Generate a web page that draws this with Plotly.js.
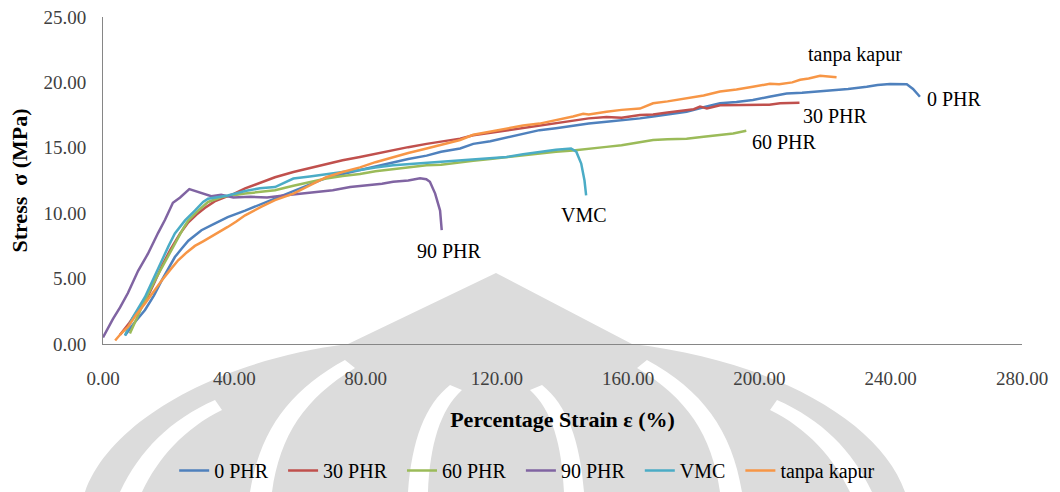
<!DOCTYPE html>
<html>
<head>
<meta charset="utf-8">
<script src="https://cdn.plot.ly/plotly-3.0.1.min.js"></script>
<style>
  html, body { margin: 0; padding: 0; background: #ffffff; }
  #chart { width: 1060px; height: 492px; }
</style>
</head>
<body>
<div id="chart"></div>
<script>
// Tensile test curves: stress (MPa) vs percentage strain (%)
const seriesNames = ['0 PHR', '30 PHR', '60 PHR', '90 PHR', 'VMC', 'tanpa kapur'];

const strain0 = [6.7, 9.5, 12.8, 15.5, 17.9, 20, 21.9, 24, 26, 28, 30, 34, 38, 43.3, 48.3, 52.4, 58, 63, 68, 73, 78.3, 83, 88.4, 93, 98.6, 103, 108.8, 112.8, 118, 123, 128, 133, 138, 143.2, 148, 153.4, 158, 163.6, 167.6, 172, 177.8, 183, 188, 193, 198, 203, 208.3, 213, 218.5, 222.4, 227, 232.7, 236, 239.8, 242, 244.9, 246.8, 248.9];
const stress0 = [0.65, 1.6, 2.6, 3.7, 4.86, 5.8, 6.65, 7.3, 7.9, 8.3, 8.7, 9.2, 9.7, 10.2, 10.7, 11.1, 11.7, 12.2, 12.7, 13.0, 13.3, 13.6, 13.9, 14.15, 14.4, 14.7, 14.95, 15.3, 15.5, 15.8, 16.05, 16.35, 16.5, 16.7, 16.85, 17.0, 17.1, 17.25, 17.4, 17.55, 17.75, 18.1, 18.4, 18.5, 18.65, 18.9, 19.15, 19.2, 19.3, 19.4, 19.5, 19.66, 19.8, 19.87, 19.88, 19.85, 19.5, 18.9];

const strain30 = [5.2, 8, 10.5, 13, 15.5, 18, 20.5, 23.5, 26, 28.5, 31, 34, 38, 40, 43.3, 48.3, 52.4, 58, 63, 68, 73, 78.3, 83, 88.4, 93, 98.6, 103, 108.8, 112.8, 118, 123, 128, 133, 138, 143.2, 148, 153.4, 158, 163.6, 167.6, 172, 177.8, 180, 181.9, 184, 188, 193, 198, 203, 206.3, 209, 212.2];
const stress30 = [0.7, 1.6, 2.5, 3.3, 4.6, 6.0, 7.2, 8.45, 9.3, 9.9, 10.4, 10.9, 11.3, 11.5, 11.9, 12.4, 12.75, 13.15, 13.45, 13.8, 14.05, 14.3, 14.55, 14.8, 15.05, 15.3, 15.45, 15.7, 15.96, 16.15, 16.35, 16.5, 16.7, 16.9, 17.1, 17.25, 17.35, 17.3, 17.5, 17.55, 17.7, 17.9, 17.95, 18.15, 18.0, 18.25, 18.25, 18.3, 18.3, 18.4, 18.4, 18.44];

const strain60 = [8.2, 10, 12.5, 15.8, 17.8, 19.8, 21.5, 22.9, 24.5, 26, 27.5, 29, 32, 36.2, 43.3, 52.4, 58, 63, 68, 73, 78.3, 83, 88.4, 93, 98.6, 103, 108.8, 112.8, 118, 123, 128, 133, 138, 143.2, 148, 153.4, 158, 163.6, 167.6, 172, 177.8, 183, 188, 192, 196];
const stress60 = [0.8, 1.8, 3.2, 4.86, 5.8, 6.65, 7.5, 8.2, 8.85, 9.45, 9.85, 10.2, 10.86, 11.24, 11.5, 11.75, 12.1, 12.4, 12.65, 12.85, 13.0, 13.2, 13.35, 13.5, 13.66, 13.7, 13.9, 14.0, 14.15, 14.3, 14.45, 14.56, 14.7, 14.8, 14.95, 15.07, 15.2, 15.4, 15.6, 15.65, 15.7, 15.85, 15.96, 16.1, 16.3];

const strain90 = [0, 1.5, 3, 5.2, 7.6, 10.7, 13.7, 16.8, 18.9, 21.3, 23.5, 26.3, 28, 29.9, 33, 36, 39.7, 45, 50, 55, 60, 65, 70, 75.3, 80, 85, 88.4, 93, 96.6, 98.5, 99.6, 101.2, 102.7, 103.2];
const stress90 = [0.5, 1.2, 1.9, 2.8, 3.9, 5.6, 6.9, 8.5, 9.5, 10.8, 11.2, 11.84, 11.7, 11.55, 11.3, 11.4, 11.2, 11.25, 11.2, 11.35, 11.5, 11.6, 11.75, 12.0, 12.1, 12.25, 12.4, 12.5, 12.67, 12.6, 12.4, 11.5, 10.2, 8.7];

const strainVMC = [6.7, 9, 12.8, 15.5, 17.9, 20, 21.9, 23.5, 25, 28, 30.5, 32, 38, 43.3, 47.8, 52.4, 58, 63, 68, 73, 78.3, 83, 88.4, 93, 98.6, 102.7, 108.8, 112.8, 118, 123, 128, 133, 138, 142.6, 144.2, 145.7, 146.7, 147.2];
const stressVMC = [0.65, 2.0, 3.6, 5.1, 6.4, 7.5, 8.45, 9.0, 9.45, 10.2, 10.86, 11.1, 11.35, 11.7, 11.9, 12.0, 12.65, 12.8, 13.0, 13.15, 13.3, 13.5, 13.66, 13.75, 13.85, 13.95, 14.05, 14.1, 14.2, 14.3, 14.5, 14.7, 14.85, 14.95, 14.7, 13.8, 12.5, 11.37];

const strainTK = [3.7, 5.5, 7.6, 10, 12.8, 15.3, 17.9, 20.4, 22.9, 25.5, 28, 30.5, 33, 35.5, 38, 40.5, 43.3, 48.3, 52.4, 58, 63, 68, 73, 78.3, 83, 88.4, 93, 98.6, 103, 108.8, 112.8, 118, 123, 128, 133, 138, 143.2, 146.3, 148, 153.4, 158, 163.6, 167.6, 172, 177.8, 183, 188, 193, 198, 203.2, 206, 210, 212.4, 215, 218.5, 221, 223.5];
const stressTK = [0.27, 0.8, 1.3, 2.2, 3.1, 4.0, 4.86, 5.65, 6.4, 7.0, 7.5, 7.85, 8.2, 8.6, 8.95, 9.35, 9.84, 10.5, 11.0, 11.5, 12.1, 12.75, 13.15, 13.5, 13.9, 14.3, 14.6, 14.95, 15.25, 15.6, 16.0, 16.25, 16.5, 16.7, 16.85, 17.1, 17.4, 17.6, 17.55, 17.75, 17.9, 18.0, 18.4, 18.55, 18.77, 19.0, 19.3, 19.45, 19.66, 19.9, 19.85, 20.0, 20.2, 20.3, 20.5, 20.45, 20.4];

const xTickVals = [0, 40, 80, 120, 160, 200, 240, 280];
const yTickVals = [0, 5, 10, 15, 20, 25];

const colors = ['#4F81BD', '#C0504D', '#9BBB59', '#8064A2', '#4BACC6', '#F79646'];
const strains = [strain0, strain30, strain60, strain90, strainVMC, strainTK];
const stresses = [stress0, stress30, stress60, stress90, stressVMC, stressTK];

const serif = 'Liberation Serif, Times New Roman, serif';
const legendPad = '\u00a0\u00a0';

const traces = seriesNames.map((name, i) => ({
  type: 'scatter',
  mode: 'lines',
  name: name + legendPad,
  x: strains[i],
  y: stresses[i],
  line: { color: colors[i], width: 2.5 },
  hoverinfo: 'skip'
}));

// End-of-curve labels, offset in pixels from each curve's last point
const labelOffsets = [
  { xanchor: 'left',   xshift: 5,  yshift: -2 },
  { xanchor: 'left',   xshift: 2,  yshift: -13 },
  { xanchor: 'left',   xshift: 4,  yshift: -11 },
  { xanchor: 'center', xshift: 8,  yshift: -21 },
  { xanchor: 'center', xshift: -2, yshift: -20 },
  { xanchor: 'center', xshift: 18, yshift: 23 }
];
const annotations = seriesNames.map((name, i) => {
  const xs = strains[i], ys = stresses[i];
  return Object.assign({
    x: xs[xs.length - 1], y: ys[ys.length - 1],
    xref: 'x', yref: 'y', text: name, showarrow: false,
    yanchor: 'middle',
    font: { family: serif, size: 20, color: '#000000' }
  }, labelOffsets[i]);
});

// Faint background emblem, drawn in page pixels and converted to paper units
const L = 103, R = 1022, T = 17, B = 344;
function pathFromPixels(cmds) {
  return cmds.replace(/(-?\d+(?:\.\d+)?),(-?\d+(?:\.\d+)?)/g, (m, px, py) => {
    const xp = (parseFloat(px) - L) / (R - L);
    const yp = (B - parseFloat(py)) / (B - T);
    return xp.toFixed(4) + ',' + yp.toFixed(4);
  });
}
const emblemGrey = [
  'M 85,492 C 110,420 220,360 348,344 L 496,273 L 632,344 C 770,360 880,420 905,492 Z'
];
const emblemGaps = [
  'M 120,492 C 140,450 170,420 215,400 L 222,410 C 185,428 158,458 142,492 Z',
  'M 872,492 C 852,450 822,420 777,400 L 770,410 C 807,428 834,458 850,492 Z',
  'M 250,492 C 260,430 290,390 345,360 L 355,368 C 305,398 280,435 272,492 Z',
  'M 742,492 C 732,430 702,390 647,360 L 637,368 C 687,398 712,435 720,492 Z',
  'M 408,492 C 412,440 425,405 450,385 L 462,390 C 440,410 430,445 428,492 Z',
  'M 584,492 C 580,440 567,405 542,385 L 530,390 C 552,410 562,445 564,492 Z'
];
const shapes = [];
emblemGrey.forEach(p => shapes.push({
  type: 'path', xref: 'paper', yref: 'paper', layer: 'below',
  path: pathFromPixels(p), fillcolor: '#dcdcdc', line: { width: 0 }
}));
emblemGaps.forEach(p => shapes.push({
  type: 'path', xref: 'paper', yref: 'paper', layer: 'below',
  path: pathFromPixels(p), fillcolor: '#ffffff', line: { width: 0 }
}));

const layout = {
  width: 1060,
  height: 492,
  margin: { l: L, r: 1060 - R, t: T, b: 492 - B, autoexpand: false },
  paper_bgcolor: '#ffffff',
  plot_bgcolor: 'rgba(0,0,0,0)',
  showlegend: true,
  legend: {
    orientation: 'h',
    x: 0.467, xanchor: 'center',
    y: -0.387, yanchor: 'middle',
    font: { family: serif, size: 20, color: '#000000' },
    bgcolor: 'rgba(0,0,0,0)',
    itemwidth: 30
  },
  xaxis: {
    range: [0, 280],
    tickvals: xTickVals,
    ticktext: xTickVals.map(v => v.toFixed(2)),
    showgrid: false, zeroline: false,
    showline: true, linecolor: '#868686', linewidth: 1,
    ticks: '',
    ticklabelstandoff: 17,
    tickfont: { family: serif, size: 19, color: '#404040' },
    title: {
      text: '<b>Percentage Strain ε (%)</b>',
      font: { family: serif, size: 22, color: '#000000' },
      standoff: 23
    },
    fixedrange: true
  },
  yaxis: {
    range: [0, 25],
    tickvals: yTickVals,
    ticktext: yTickVals.map(v => v.toFixed(2)),
    showgrid: false, zeroline: false,
    showline: true, linecolor: '#868686', linewidth: 1,
    ticks: '',
    ticklabelstandoff: 12,
    tickfont: { family: serif, size: 19, color: '#404040' },
    title: {
      text: '<b>Stress  σ (MPa)</b>',
      font: { family: serif, size: 22, color: '#000000' },
      standoff: 9
    },
    fixedrange: true
  },
  annotations: annotations,
  shapes: shapes
};

Plotly.newPlot('chart', traces, layout, { staticPlot: true, displayModeBar: false });
</script>
</body>
</html>
